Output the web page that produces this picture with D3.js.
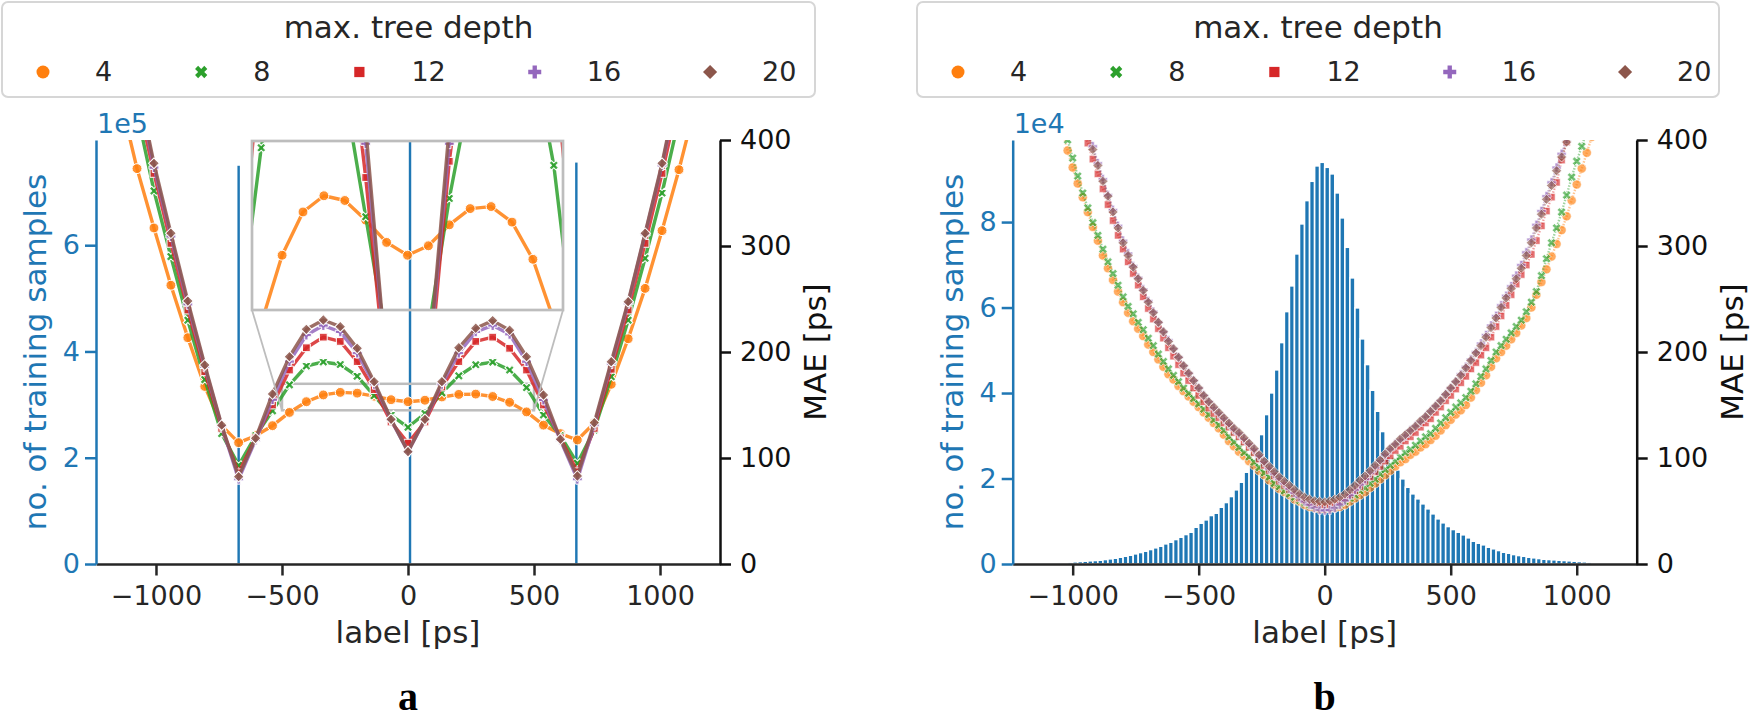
<!DOCTYPE html>
<html>
<head>
<meta charset="utf-8">
<script src="https://cdn.jsdelivr.net/npm/d3@7/dist/d3.min.js"></script>
<style>
  body { margin: 0; background: #fff; }
  svg { display: block; }
</style>
</head>
<body>
<svg id="chart" width="1750" height="720"></svg>
<script>
// ---------- panel a : labels on a 67.2 ps grid ----------
var labelsA = [-1142.4, -1075.2, -1008, -940.8, -873.6, -806.4, -739.2, -672, -604.8, -537.6,
               -470.4, -403.2, -336, -268.8, -201.6, -134.4, -67.2, 0, 67.2, 134.4,
               201.6, 268.8, 336, 403.2, 470.4, 537.6, 604.8, 672, 739.2, 806.4,
               873.6, 940.8, 1008, 1075.2, 1142.4];
var maeA4  = [440, 373, 317, 263, 213.5, 167.5, 130.5, 114.5, 121, 130.5,
              143, 153.1, 159.5, 161.9, 161.2, 158.3, 155, 153.1, 154.5, 157.6,
              160, 160.3, 158, 152.5, 143.5, 131, 123, 117, 133, 169.5,
              212.5, 260, 314.5, 372, 435];
var maeA8  = [null, 426, 352, 290, 230, 174, 123, 93, 121, 144.5,
              169, 186.8, 190.6, 188.2, 177.2, 158.8, 140.5, 129, 142, 161.5,
              177.5, 188, 190.5, 183, 166.4, 140.6, 121, 95, 126.4, 176.7,
              230, 288.4, 350, 420, null];
var maeA12 = [null, 440, 368.5, 302.5, 239.6, 181.4, 128, 86, 119, 150,
              183, 204, 214, 210, 191, 164.6, 134, 114, 134, 167,
              191, 210, 214, 203.5, 183, 150, 119, 87, 128, 183.7,
              239.6, 302.5, 368.5, 440, null];
var maeA16 = [null, 452, 374, 309, 245, 186, 130, 80, 117, 155,
              191, 216, 225, 219, 199, 169.6, 136, 106, 136, 169.6,
              199, 219, 225, 216.7, 190.9, 154.7, 117, 80, 131, 189,
              246, 311, 376, 452, null];
var maeA20 = [null, 455, 378, 312, 248, 187.7, 131, 82.4, 118.6, 160.4,
              195.6, 221.4, 230.2, 223.9, 203.5, 172, 136.5, 106, 136.5, 172,
              204, 222.4, 229.6, 220.5, 195.6, 159.4, 117.7, 83, 133.3, 190.9,
              247.5, 312, 378, 455, null];
var histLabelsA = [-672, 8, 668];
var histCountsA = [751000, 840000, 757000];

// ---------- panel b : labels every 20 ps ----------
var labelsB = d3.range(-1040, 1061, 20);
var maeB4 = [408, 390, 374, 359, 346, 332, 318, 305, 291, 279,
             268, 257, 247, 237, 229, 222, 215, 207, 200, 193,
             186, 179, 174, 168, 163, 158, 153, 148, 143, 138,
             133, 128, 122, 116, 111, 106, 102, 97, 93, 88,
             84, 79, 75, 71, 68, 65, 61, 59, 56, 54,
             53, 52, 52, 52.5, 53, 54, 56, 59, 62, 65,
             68, 72, 76, 80, 84, 88, 92, 96, 99, 103,
             106, 110, 113, 117, 121, 126, 131, 136, 141, 145,
             150, 157, 164, 171, 178, 186, 194, 200, 206, 212,
             218, 225, 232, 242, 254, 266, 278, 290, 302, 315,
             328, 343, 358, 373, 388, 403];
var maeB8 = [415, 400, 383, 366, 350, 336, 322, 310, 297, 285,
             274, 263, 252, 243, 236, 228, 221, 213, 206, 198,
             191, 184, 178, 172, 166, 161, 156, 151, 146, 141,
             136, 131, 126, 120, 115, 110, 105, 101, 96, 91,
             86, 82, 76, 73, 69, 66, 63, 60, 58, 56,
             55, 54, 53.6, 54, 55.5, 57, 59, 62, 65, 69,
             72, 76, 80, 85, 89, 93, 97, 101, 105, 108,
             112, 116, 120, 123, 128, 133, 138, 143, 148, 152,
             157, 163, 170, 177, 184, 192, 200, 206, 212, 218,
             224, 230, 238, 247, 257, 272, 288, 303, 317, 332,
             348, 365, 380, 394, 409, null];
var maeB12 = [null, null, 440, 425, 411, 397, 382, 368, 354, 339,
              324, 310, 297, 285, 274, 263, 252, 241, 231, 222,
              213, 204, 196, 188, 180, 173, 166, 159, 153, 147,
              142, 138, 133, 129, 124, 120, 115, 110, 105, 99,
              93, 88, 83, 78, 74, 70, 66, 62, 60, 58,
              56.5, 55.5, 55, 56, 57.5, 59, 62, 65, 69, 73,
              78, 82, 87, 92, 97, 102, 107, 111, 116, 120,
              124, 129, 133, 137, 143, 148, 154, 159, 165, 171,
              177, 184, 190, 197, 204, 214, 224, 234, 244, 254,
              264, 273, 282, 292, 305, 319, 333, 346, 360, 381,
              398, 413, 428, null, null, null];
var maeB16 = [null, null, 455, 439, 424, 409, 394, 378, 363, 348,
              334, 319, 305, 293, 281, 270, 259, 248, 238, 228,
              219, 211, 203, 195, 187, 180, 173, 166, 159, 153,
              147, 142, 137, 132, 127, 123, 118, 113, 108, 102,
              96, 90, 85, 80, 76, 71, 67, 63, 59, 56,
              53, 51, 50.5, 51, 53, 56, 60, 65, 70, 75,
              80, 86, 91, 97, 103, 108, 113, 117, 121, 126,
              130, 134, 139, 144, 149, 154, 160, 166, 172, 179,
              186, 193, 200, 208, 216, 225, 234, 244, 253, 262,
              272, 282, 294, 306, 320, 333, 347, 360, 374, 387,
              401, 414, 428, null, null, null];
var maeB20 = [null, null, 452, 436, 421, 406, 391, 376, 361, 347,
              332, 317, 303, 291, 280, 269, 258, 247, 237, 228,
              219, 210, 203, 195, 187, 180, 173, 166, 159, 153,
              148, 143, 138, 133, 128, 124, 119, 114, 109, 103,
              97, 92, 87, 82, 78, 74, 70, 66, 63, 61,
              59.5, 59, 58.5, 59.5, 61, 63, 66, 70, 74, 79,
              83, 88, 93, 98, 104, 109, 113, 118, 122, 126,
              130, 135, 139, 144, 149, 154, 160, 166, 172, 178,
              185, 192, 199, 206, 214, 223, 232, 242, 251, 260,
              269, 279, 291, 303, 317, 330, 344, 357, 371, 384,
              398, 411, 425, 440, null, null];
var histLabelsB = d3.range(-1150, 1151, 20);
var histCountsB = [30, 60, 100, 140, 190, 260, 340, 430, 510, 580,
                   660, 750, 820, 890, 1050, 1210, 1360, 1590, 1820, 2060,
                   2380, 2690, 3000, 3390, 3790, 4170, 4720, 5100, 5730, 6270,
                   6900, 7440, 8610, 9550, 10330, 11350, 11890, 13290, 14390, 15790,
                   17360, 19140, 21480, 23580, 24980, 30290, 34970, 40040, 45430, 51810,
                   59060, 65080, 72560, 79580, 85030, 89550, 93150, 93990, 92820, 91280,
                   86830, 80990, 74110, 66950, 59930, 52680, 46670, 40660, 35750, 31000,
                   25850, 23040, 22030, 19930, 17960, 16420, 15250, 14080, 12910, 11740,
                   10570, 9640, 8770, 8070, 7440, 6830, 6130, 5330, 4870, 4490,
                   3930, 3560, 3160, 2760, 2530, 2220, 1990, 1820, 1590, 1450,
                   1290, 1120, 1050, 980, 890, 820, 750, 660, 580, 510,
                   430, 350, 280, 220, 150, 80];

var depths = ["4", "8", "12", "16", "20"];
var xTicks = [-1000, -500, 0, 500, 1000];
var maeTicks = [0, 100, 200, 300, 400];
var countTicksA = [0, 200000, 400000, 600000];
var countTicksB = [0, 20000, 40000, 60000, 80000];

// ---------- look ----------
var palette = ["#ff7f0e", "#2ca02c", "#d62728", "#9467bd", "#8c564b"];
var blue = "#1f77b4", ink = "#262626", frame = "#bdbdbd";
var font = "'DejaVu Sans', sans-serif";
var tickFont = 27, labelFont = 31;
var plotTop = 140, plotBottom = 564, plotW = 624;
var xDomain = [-1238, 1238];
var shapes = [
  { type: d3.symbolCircle, rot: 0,  size: 133 },
  { type: d3.symbolCross,  rot: 45, size: 94 },
  { type: d3.symbolSquare, rot: 0,  size: 105 },
  { type: d3.symbolCross,  rot: 0,  size: 94 },
  { type: d3.symbolSquare, rot: 45, size: 100 }
];

var svg = d3.select("#chart");
var defs = svg.append("defs");
svg.append("rect").attr("width", 1750).attr("height", 720).attr("fill", "#fff");

function addClip(id, x0, y0, w, h) {
  defs.append("clipPath").attr("id", id)
    .append("rect").attr("x", x0).attr("y", y0).attr("width", w).attr("height", h);
  return "url(#" + id + ")";
}

function drawMarkers(g, pts, i, scale, opacity, edge) {
  var sym = d3.symbol().type(shapes[i].type).size(shapes[i].size * scale);
  g.selectAll(null).data(pts).enter().append("path")
    .attr("d", sym)
    .attr("transform", function (d) {
      return "translate(" + d[0] + "," + d[1] + ") rotate(" + shapes[i].rot + ")";
    })
    .attr("fill", palette[i])
    .attr("fill-opacity", opacity)
    .attr("stroke", "#fff")
    .attr("stroke-width", edge);
}

function drawSeries(g, x, y, labels, values, i, st) {
  var data = d3.zip(labels, values).filter(function (d) { return d[1] != null; });
  var line = d3.line().x(function (d) { return x(d[0]); }).y(function (d) { return y(d[1]); });
  g.append("path").datum(data)
    .attr("d", line)
    .attr("fill", "none")
    .attr("stroke", palette[i])
    .attr("stroke-width", st.lw)
    .attr("stroke-opacity", st.lineOpacity)
    .attr("stroke-dasharray", st.dash)
    .attr("stroke-linejoin", "round");
  var pts = data.map(function (d) { return [x(d[0]), y(d[1])]; });
  drawMarkers(g, pts, i, st.markerScale, st.markerOpacity, st.edge);
}

function styleAxis(sel, color) {
  sel.attr("font-family", null).attr("font-size", null);
  sel.select(".domain").attr("stroke", color).attr("stroke-width", 2.5);
  sel.selectAll(".tick line").attr("stroke", color).attr("stroke-width", 2.5);
  sel.selectAll(".tick text").attr("fill", color)
    .attr("font-family", font).attr("font-size", tickFont);
}

function drawLegend(left, width) {
  var g = svg.append("g");
  g.append("rect").attr("x", left).attr("y", 2).attr("width", width).attr("height", 95)
    .attr("rx", 6).attr("fill", "#fff").attr("stroke", "#d6d6d6").attr("stroke-width", 2);
  g.append("text").attr("x", left + width / 2).attr("y", 38)
    .attr("text-anchor", "middle").attr("font-family", font).attr("font-size", labelFont)
    .attr("fill", ink).text("max. tree depth");
  var mx = left + 41;
  depths.forEach(function (d, i) {
    drawMarkers(g, [[mx, 72]], i, 1, 1, 0);
    var t = g.append("text").attr("x", mx + 52).attr("y", 81)
      .attr("font-family", font).attr("font-size", tickFont).attr("fill", ink).text(d);
    mx = mx + 52 + t.node().getComputedTextLength() + 89;
  });
}

function drawPanel(cfg) {
  var L = cfg.left;
  var x = d3.scaleLinear().domain(xDomain).range([L, L + plotW]);
  var yC = d3.scaleLinear().domain([0, cfg.countMax]).range([plotBottom, plotTop]);
  var yM = d3.scaleLinear().domain([0, 400]).range([plotBottom, plotTop]);
  var clip = addClip("clip-" + cfg.id, L, plotTop, plotW, plotBottom - plotTop);
  var g = svg.append("g");

  // histogram of training labels
  var half = cfg.binWidth / 2;
  g.append("g").attr("clip-path", clip)
    .selectAll("rect").data(d3.zip(cfg.histLabels, cfg.histCounts)).enter().append("rect")
    .attr("x", function (d) { return x(d[0] - half); })
    .attr("width", function (d) { return x(d[0] + half) - x(d[0] - half); })
    .attr("y", function (d) { return yC(d[1]); })
    .attr("height", function (d) { return plotBottom - yC(d[1]); })
    .attr("fill", blue).attr("stroke", "#fff").attr("stroke-width", 1.6);

  // zoom indicator (panel a)
  if (cfg.inset) {
    var zx = cfg.inset.x, zy = cfg.inset.y;
    g.append("rect")
      .attr("x", x(zx[0])).attr("y", yM(zy[1]))
      .attr("width", x(zx[1]) - x(zx[0])).attr("height", yM(zy[0]) - yM(zy[1]))
      .attr("fill", "none").attr("stroke", frame).attr("stroke-width", 2.5);
  }

  // MAE curves
  var lines = g.append("g").attr("clip-path", clip);
  cfg.series.forEach(function (vals, i) {
    drawSeries(lines, x, yM, cfg.labels, vals, i, cfg.style);
  });

  // inset axes
  if (cfg.inset) {
    var ib = cfg.inset.box;
    var xi = d3.scaleLinear().domain(cfg.inset.x).range([ib[0], ib[1]]);
    var yi = d3.scaleLinear().domain(cfg.inset.y).range([ib[3], ib[2]]);
    g.append("line").attr("x1", ib[0]).attr("y1", ib[3])
      .attr("x2", x(cfg.inset.x[0])).attr("y2", yM(cfg.inset.y[0]))
      .attr("stroke", frame).attr("stroke-width", 1.8);
    g.append("line").attr("x1", ib[1]).attr("y1", ib[3])
      .attr("x2", x(cfg.inset.x[1])).attr("y2", yM(cfg.inset.y[0]))
      .attr("stroke", frame).attr("stroke-width", 1.8);
    var iclip = addClip("clip-inset", ib[0], ib[2], ib[1] - ib[0], ib[3] - ib[2]);
    var ig = g.append("g").attr("clip-path", iclip);
    cfg.series.forEach(function (vals, i) {
      drawSeries(ig, xi, yi, cfg.labels, vals, i, cfg.style);
    });
    g.append("rect").attr("x", ib[0]).attr("y", ib[2])
      .attr("width", ib[1] - ib[0]).attr("height", ib[3] - ib[2])
      .attr("fill", "none").attr("stroke", frame).attr("stroke-width", 2.7);
  }

  // axes
  var xa = g.append("g").attr("transform", "translate(0," + plotBottom + ")")
    .call(d3.axisBottom(x).tickValues(xTicks).tickFormat(d3.format("d"))
      .tickSize(11.5).tickSizeOuter(0).tickPadding(10));
  styleAxis(xa, ink);

  var ya = g.append("g").attr("transform", "translate(" + L + ",0)")
    .call(d3.axisLeft(yC).tickValues(cfg.countTicks).tickSize(11).tickSizeOuter(0).tickPadding(5)
      .tickFormat(function (v) { return v / cfg.countDiv; }));
  styleAxis(ya, blue);

  var ma = g.append("g").attr("transform", "translate(" + (L + plotW) + ",0)")
    .call(d3.axisRight(yM).tickValues(maeTicks).tickSize(11).tickSizeOuter(0).tickPadding(9));
  styleAxis(ma, "#111");

  // texts
  g.append("text").attr("x", L + 1).attr("y", 133)
    .attr("font-family", font).attr("font-size", tickFont).attr("fill", blue).text(cfg.offsetText);
  g.append("text")
    .attr("transform", "translate(" + (L - 61) + "," + ((plotTop + plotBottom) / 2) + ") rotate(-90)")
    .attr("text-anchor", "middle").attr("dominant-baseline", "central")
    .attr("font-family", font).attr("font-size", labelFont).attr("fill", blue)
    .text("no. of training samples");
  g.append("text")
    .attr("transform", "translate(" + (L + plotW + 95) + "," + ((plotTop + plotBottom) / 2) + ") rotate(-90)")
    .attr("text-anchor", "middle").attr("dominant-baseline", "central")
    .attr("font-family", font).attr("font-size", labelFont).attr("fill", "#111")
    .text("MAE [ps]");
  g.append("text").attr("x", L + plotW / 2).attr("y", 643)
    .attr("text-anchor", "middle").attr("font-family", font).attr("font-size", labelFont)
    .attr("fill", ink).text("label [ps]");
  g.append("text").attr("x", L + plotW / 2).attr("y", 710)
    .attr("text-anchor", "middle").attr("font-family", "'Liberation Serif', serif")
    .attr("font-weight", "bold").attr("font-size", 40).attr("fill", "#000").text(cfg.tag);

  drawLegend(cfg.legendLeft, cfg.legendWidth);
}

drawPanel({
  id: "a", left: 96, countMax: 798000, countTicks: countTicksA, countDiv: 100000,
  offsetText: "1e5", labels: labelsA,
  series: [maeA4, maeA8, maeA12, maeA16, maeA20],
  histLabels: histLabelsA, histCounts: histCountsA, binWidth: 16,
  style: { lw: 3.4, lineOpacity: 0.85, dash: null, markerScale: 0.58, markerOpacity: 0.85, edge: 1 },
  inset: { x: [-500, 500], y: [145, 170], box: [252, 563, 141, 310] },
  legendLeft: 2, legendWidth: 813, tag: "a"
});

drawPanel({
  id: "b", left: 1012.7, countMax: 99200, countTicks: countTicksB, countDiv: 10000,
  offsetText: "1e4", labels: labelsB,
  series: [maeB4, maeB8, maeB12, maeB16, maeB20],
  histLabels: histLabelsB, histCounts: histCountsB, binWidth: 20,
  style: { lw: 2.4, lineOpacity: 0.45, dash: "1.5,1.5", markerScale: 0.5, markerOpacity: 0.65, edge: 0.6 },
  inset: null,
  legendLeft: 917, legendWidth: 802, tag: "b"
});
</script>
</body>
</html>
